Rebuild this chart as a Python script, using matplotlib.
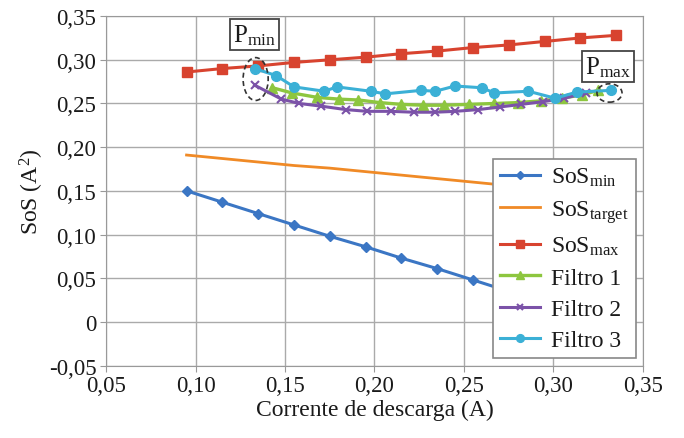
import matplotlib
matplotlib.use("Agg")
import matplotlib.pyplot as plt
from matplotlib.patches import Ellipse
from matplotlib.ticker import FuncFormatter, MultipleLocator

plt.rcParams["font.family"] = ["Liberation Serif", "DejaVu Serif"]
plt.rcParams["mathtext.fontset"] = "custom"
plt.rcParams["mathtext.rm"] = "Liberation Serif"
plt.rcParams["mathtext.it"] = "Liberation Serif:italic"

# --- données ---
corrente = [0.095, 0.115, 0.135, 0.155, 0.175, 0.195, 0.215,
            0.235, 0.255, 0.275, 0.295, 0.315, 0.335]
sos_min = [0.150, 0.137, 0.124, 0.111, 0.098, 0.086, 0.073,
           0.061, 0.048, 0.035, 0.022, 0.009, -0.004]
sos_target = [0.191, 0.187, 0.183, 0.179, 0.176, 0.172, 0.168,
              0.164, 0.160, 0.156, 0.152, 0.148, 0.145]
sos_max = [0.286, 0.290, 0.293, 0.297, 0.300, 0.303, 0.307,
           0.310, 0.314, 0.317, 0.321, 0.325, 0.328]

f1_x = [0.143, 0.154, 0.168, 0.180, 0.191, 0.203, 0.215, 0.227,
        0.239, 0.253, 0.267, 0.280, 0.293, 0.305, 0.316, 0.325]
f1_y = [0.268, 0.262, 0.257, 0.255, 0.254, 0.251, 0.249, 0.248,
        0.248, 0.249, 0.250, 0.251, 0.253, 0.256, 0.260, 0.265]

f2_x = [0.133, 0.148, 0.158, 0.170, 0.184, 0.196, 0.209, 0.222,
        0.234, 0.245, 0.258, 0.270, 0.282, 0.294, 0.306, 0.318]
f2_y = [0.271, 0.255, 0.250, 0.247, 0.243, 0.241, 0.241, 0.240,
        0.240, 0.241, 0.243, 0.246, 0.249, 0.252, 0.256, 0.262]

f3_x = [0.133, 0.145, 0.155, 0.172, 0.179, 0.198, 0.206, 0.226,
        0.234, 0.245, 0.260, 0.267, 0.286, 0.301, 0.313, 0.332]
f3_y = [0.290, 0.282, 0.269, 0.264, 0.269, 0.264, 0.261, 0.265,
        0.264, 0.270, 0.268, 0.262, 0.264, 0.256, 0.263, 0.265]

BLUE = "#3b76c4"
ORANGE = "#f08a26"
RED = "#d8432f"
GREEN = "#8dc63f"
PURPLE = "#7b52a8"
CYAN = "#3bb0d6"
TXT = "#1a1a1a"

fig = plt.figure(figsize=(6.84, 4.39), dpi=100)
ax = fig.add_axes([0.155, 0.165, 0.785, 0.796])

ax.plot(corrente, sos_min, color=BLUE, lw=2.2, marker="D", ms=5.5,
        label=r"SoS$_{\mathrm{min}}$", zorder=3)
ax.plot(corrente, sos_target, color=ORANGE, lw=2.0,
        label=r"SoS$_{\mathrm{target}}$", zorder=3)
ax.plot(corrente, sos_max, color=RED, lw=2.2, marker="s", ms=7,
        label=r"SoS$_{\mathrm{max}}$", zorder=3)
ax.plot(f1_x, f1_y, color=GREEN, lw=2.4, marker="^", ms=7,
        label="Filtro 1", zorder=3)
ax.plot(f2_x, f2_y, color=PURPLE, lw=2.2, marker="x", ms=6, mew=1.5,
        label="Filtro 2", zorder=4)
ax.plot(f3_x, f3_y, color=CYAN, lw=2.2, marker="o", ms=7,
        label="Filtro 3", zorder=5)

# ellipses en pointillés autour de Pmin et Pmax
ax.add_patch(Ellipse((0.1336, 0.278), 0.014, 0.049, fill=False,
                     ls=(0, (3, 2)), lw=1.2, ec="#333333", zorder=6))
ax.add_patch(Ellipse((0.3313, 0.262), 0.014, 0.021, fill=False,
                     ls=(0, (3, 2)), lw=1.2, ec="#333333", zorder=6))

box = dict(boxstyle="square,pad=0.12", fc="white", ec="#444444", lw=1.3)
ax.text(0.1331, 0.329, r"P$_{\mathrm{min}}$", fontsize=18, ha="center",
        va="center", bbox=box, zorder=7, color=TXT)
ax.text(0.3305, 0.292, r"P$_{\mathrm{max}}$", fontsize=18, ha="center",
        va="center", bbox=box, zorder=7, color=TXT)

ax.set_xlim(0.05, 0.35)
ax.set_ylim(-0.05, 0.35)
ax.xaxis.set_major_locator(MultipleLocator(0.05))
ax.yaxis.set_major_locator(MultipleLocator(0.05))


def virgule(v, pos):
    if abs(v) < 1e-9:
        return "0"
    return f"{v:.2f}".replace(".", ",")


ax.xaxis.set_major_formatter(FuncFormatter(virgule))
ax.yaxis.set_major_formatter(FuncFormatter(virgule))
ax.tick_params(labelsize=16.5, labelcolor=TXT, length=4, color="#999999",
               labelfontfamily="Liberation Serif", pad=3)
ax.grid(True, color="#aaaaaa", lw=1.0)
ax.set_axisbelow(True)
for s in ax.spines.values():
    s.set_color("#999999")

ax.set_xlabel("Corrente de descarga (A)", fontsize=17, color=TXT, labelpad=2)
ax.set_ylabel(r"SoS (A$^2$)", fontsize=17, color=TXT, labelpad=2)

leg = ax.legend(loc="lower right", fontsize=17, frameon=True, fancybox=False,
                edgecolor="#888888", framealpha=1, borderaxespad=0.3,
                handlelength=1.7, labelspacing=0.42, borderpad=0.3,
                handletextpad=0.45, markerscale=0.8)
leg.get_frame().set_linewidth(1.2)
leg.set_zorder(10)
for t in leg.get_texts():
    t.set_color(TXT)

fig.savefig("out.png", dpi=100)
